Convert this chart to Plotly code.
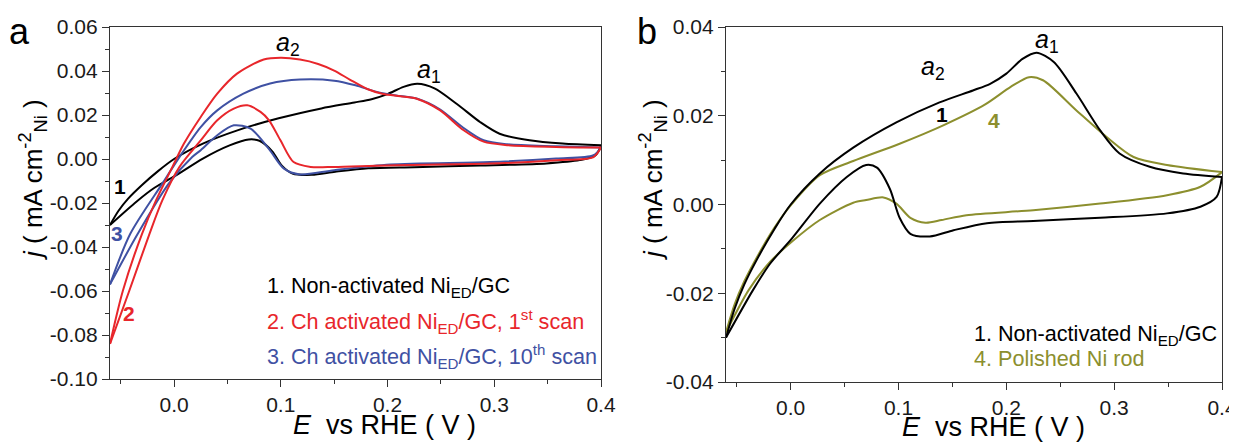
import plotly.graph_objects as go

W, H = 1237, 443
OFF = 8  # the page body margin shifts the figure by this many pixels

# ---------------- data ----------------
# Curve 1: non-activated Ni_ED/GC (black) - same in both panels
E_1_fwd = [-0.060, -0.052, -0.043, -0.030, -0.015, 0.000, 0.027, 0.058, 0.098, 0.138, 0.169, 0.185, 0.200, 0.215, 0.228, 0.244, 0.265, 0.287, 0.305, 0.333, 0.364, 0.400]
J_1_fwd = [-0.0300, -0.0235, -0.0180, -0.0118, -0.0055, 0.0000, 0.0070, 0.0128, 0.0185, 0.0230, 0.0257, 0.0272, 0.0295, 0.0328, 0.0342, 0.0321, 0.0250, 0.0167, 0.0115, 0.0085, 0.0070, 0.0062]
E_1_rev = [0.400, 0.395, 0.380, 0.349, 0.287, 0.225, 0.182, 0.151, 0.129, 0.111, 0.101, 0.092, 0.080, 0.070, 0.052, 0.027, 0.001, -0.019, -0.035, -0.060]
J_1_rev = [0.0062, 0.0017, -0.0005, -0.0020, -0.0030, -0.0037, -0.0042, -0.0058, -0.0072, -0.0066, -0.0030, 0.0035, 0.0083, 0.0089, 0.0062, 0.0002, -0.0077, -0.0133, -0.0193, -0.0300]

# Curve 2: Ch activated, 1st scan (red)
E_2_fwd = [-0.060, -0.048, -0.030, -0.017, -0.0015, 0.0093, 0.025, 0.0405, 0.059, 0.084, 0.100, 0.118, 0.135, 0.150, 0.165, 0.181, 0.196, 0.212, 0.228, 0.249, 0.271, 0.290, 0.312, 0.358, 0.400]
J_2_fwd = [-0.0840, -0.0600, -0.0340, -0.0189, -0.0036, 0.0070, 0.0191, 0.0297, 0.0388, 0.0452, 0.0460, 0.0452, 0.0432, 0.0402, 0.0360, 0.0318, 0.0295, 0.0285, 0.0273, 0.0222, 0.0132, 0.0079, 0.0063, 0.0055, 0.0052]
E_2_rev = [0.400, 0.393, 0.358, 0.296, 0.199, 0.150, 0.128, 0.112, 0.0997, 0.089, 0.081, 0.0686, 0.056, 0.0405, 0.025, 0.005, -0.011, -0.023, -0.042, -0.060]
J_2_rev = [0.0052, 0.0009, -0.0006, -0.0021, -0.0029, -0.0036, -0.0036, -0.0014, 0.0085, 0.0176, 0.0214, 0.0244, 0.0229, 0.0176, 0.0085, -0.0036, -0.0188, -0.0340, -0.0600, -0.0840]

# Curve 3: Ch activated, 10th scan (blue)
E_3_fwd = [-0.060, -0.041, -0.011, 0.008, 0.025, 0.0405, 0.065, 0.090, 0.118, 0.150, 0.170, 0.190, 0.212, 0.228, 0.249, 0.271, 0.290, 0.312, 0.358, 0.400]
J_3_fwd = [-0.0570, -0.0340, -0.0112, 0.0030, 0.0145, 0.0221, 0.0297, 0.0343, 0.0361, 0.0356, 0.0335, 0.0305, 0.0286, 0.0274, 0.0226, 0.0142, 0.0085, 0.0067, 0.0058, 0.0052]
E_3_rev = [0.400, 0.393, 0.358, 0.296, 0.2025, 0.150, 0.118, 0.103, 0.089, 0.0717, 0.056, 0.0405, 0.025, 0.017, -0.005, -0.034, -0.060]
J_3_rev = [0.0052, 0.0017, 0.0002, -0.0014, -0.0025, -0.0051, -0.0070, -0.0044, 0.0045, 0.0138, 0.0153, 0.0108, 0.0040, 0.0009, -0.0112, -0.0340, -0.0570]

# Curve 4: polished Ni rod (olive)
E_4_fwd = [-0.060, -0.052, -0.043, -0.030, -0.015, 0.000, 0.027, 0.058, 0.101, 0.142, 0.180, 0.204, 0.221, 0.234, 0.265, 0.293, 0.318, 0.349, 0.400]
J_4_fwd = [-0.0288, -0.0225, -0.0173, -0.0113, -0.0052, -0.0002, 0.0066, 0.0098, 0.0137, 0.0179, 0.0225, 0.0265, 0.0287, 0.0280, 0.0212, 0.0152, 0.0107, 0.0089, 0.0073]
E_4_rev = [0.400, 0.380, 0.349, 0.287, 0.225, 0.163, 0.140, 0.125, 0.111, 0.098, 0.086, 0.070, 0.058, 0.027, 0.001, -0.019, -0.039, -0.060]
J_4_rev = [0.0073, 0.0040, 0.0021, 0.0002, -0.0013, -0.0024, -0.0035, -0.0041, -0.0030, 0.0002, 0.0016, 0.0010, 0.0004, -0.0035, -0.0084, -0.0129, -0.0193, -0.0288]

# ticks
x_tickvals = [0.0, 0.1, 0.2, 0.3, 0.4]
x_ticktext = ["0.0", "0.1", "0.2", "0.3", "0.4"]
x_minor = [-0.05, 0.05, 0.15, 0.25, 0.35]
ya_tickvals = [-0.10, -0.08, -0.06, -0.04, -0.02, 0.00, 0.02, 0.04, 0.06]
ya_ticktext = ["-0.10", "-0.08", "-0.06", "-0.04", "-0.02", "0.00", "0.02", "0.04", "0.06"]
ya_minor = [-0.09, -0.07, -0.05, -0.03, -0.01, 0.01, 0.03, 0.05]
yb_tickvals = [-0.04, -0.02, 0.00, 0.02, 0.04]
yb_ticktext = ["-0.04", "-0.02", "0.00", "0.02", "0.04"]
yb_minor = [-0.03, -0.01, 0.01, 0.03]

legend_a = ["1. Non-activated Ni<sub>ED</sub>/GC",
            "2. Ch activated Ni<sub>ED</sub>/GC, 1<sup>st</sup> scan",
            "3. Ch activated Ni<sub>ED</sub>/GC, 10<sup>th</sup> scan"]
legend_b = ["1. Non-activated Ni<sub>ED</sub>/GC", "4. Polished Ni rod"]

BLACK = "#000000"
RED = "#e8262b"
BLUE = "#3f51a3"
OLIVE = "#8c8f2e"
FONT = "Liberation Sans, Arial, sans-serif"

fig = go.Figure()

def add(x, y, color, xa, ya):
    fig.add_trace(go.Scatter(x=x, y=y, mode="lines", xaxis=xa, yaxis=ya,
                             line=dict(color=color, width=2, shape="spline", smoothing=0.8),
                             showlegend=False, hoverinfo="skip"))

# panel a
add(E_1_fwd, J_1_fwd, BLACK, "x", "y")
add(E_1_rev, J_1_rev, BLACK, "x", "y")
add(E_3_fwd, J_3_fwd, BLUE, "x", "y")
add(E_3_rev, J_3_rev, BLUE, "x", "y")
add(E_2_fwd, J_2_fwd, RED, "x", "y")
add(E_2_rev, J_2_rev, RED, "x", "y")
# panel b
add(E_4_fwd, J_4_fwd, OLIVE, "x2", "y2")
add(E_4_rev, J_4_rev, OLIVE, "x2", "y2")
add(E_1_fwd, J_1_fwd, BLACK, "x2", "y2")
add(E_1_rev, J_1_rev, BLACK, "x2", "y2")

def px_x(p):
    return (p - OFF) / W

def px_y(p):
    return 1 - (p - OFF) / H

axis_common = dict(showline=True, linecolor="#333333", linewidth=1.3, mirror=True,
                   ticks="outside", ticklen=7, tickwidth=1.3, tickcolor="#333333",
                   showgrid=False, zeroline=False, automargin=False,
                   tickfont=dict(family=FONT, size=21, color="#1a1a1a"))

def minor(vals):
    return dict(tickmode="array", tickvals=vals, ticks="outside", ticklen=4,
                tickwidth=1.2, tickcolor="#333333", showgrid=False)

fig.update_layout(
    template="none",
    width=W, height=H, margin=dict(l=0, r=0, t=0, b=0, autoexpand=False),
    paper_bgcolor="white", plot_bgcolor="white",
    xaxis=dict(domain=[px_x(110), px_x(601)], range=[-0.06, 0.4], tickmode="array",
               tickvals=x_tickvals, ticktext=x_ticktext, anchor="y", minor=minor(x_minor),
               **axis_common),
    yaxis=dict(domain=[px_y(379), px_y(27)], range=[-0.10, 0.06], tickmode="array",
               tickvals=ya_tickvals, ticktext=ya_ticktext, anchor="x", minor=minor(ya_minor),
               **axis_common),
    xaxis2=dict(domain=[px_x(726), px_x(1222)], range=[-0.06, 0.4], tickmode="array",
                tickvals=x_tickvals, ticktext=x_ticktext, anchor="y2", minor=minor(x_minor),
                **axis_common),
    yaxis2=dict(domain=[px_y(382), px_y(27)], range=[-0.04, 0.04], tickmode="array",
                tickvals=yb_tickvals, ticktext=yb_ticktext, anchor="x2", minor=minor(yb_minor),
                **axis_common),
)

ann = []

def text(x, y, s, size, color=BLACK, xanchor="center", yanchor="middle", angle=0):
    ann.append(dict(x=px_x(x), y=px_y(y), xref="paper", yref="paper", text=s, showarrow=False,
                    xanchor=xanchor, yanchor=yanchor, textangle=angle,
                    font=dict(family=FONT, size=size, color=color)))

# axis titles
xt = "<i>E</i>\u00a0 vs RHE ( V )"
yt = "<i>j</i> ( mA cm<sup>-2</sup><sub>Ni</sub> )"
text(384, 425, xt, 27)
text(993, 427, xt, 27)
text(33, 180, yt, 26, angle=-90)
text(653, 180, yt, 26, angle=-90)

# panel letters
text(19, 31, "a", 36)
text(647, 31, "b", 36)

# peak labels
text(288, 44, "<i>a</i><sub>2</sub>", 25)
text(429, 71, "<i>a</i><sub>1</sub>", 25)
text(933, 68, "<i>a</i><sub>2</sub>", 25)
text(1047, 41, "<i>a</i><sub>1</sub>", 25)

# curve numbers
text(120, 186, "<b>1</b>", 21, BLACK)
text(117, 234, "<b>3</b>", 21, BLUE)
text(129, 313, "<b>2</b>", 21, RED)
text(942, 114, "<b>1</b>", 21, BLACK)
text(994, 120, "<b>4</b>", 21, OLIVE)

# legend texts
for s, c, y in zip(legend_a, [BLACK, RED, BLUE], [287, 321, 356]):
    text(265, y, s, 21.6, c, xanchor="left")
for s, c, y in zip(legend_b, [BLACK, OLIVE], [335, 358]):
    text(972, y, s, 21.6, c, xanchor="left")

fig.update_layout(annotations=ann)
fig.write_html("out.html")
